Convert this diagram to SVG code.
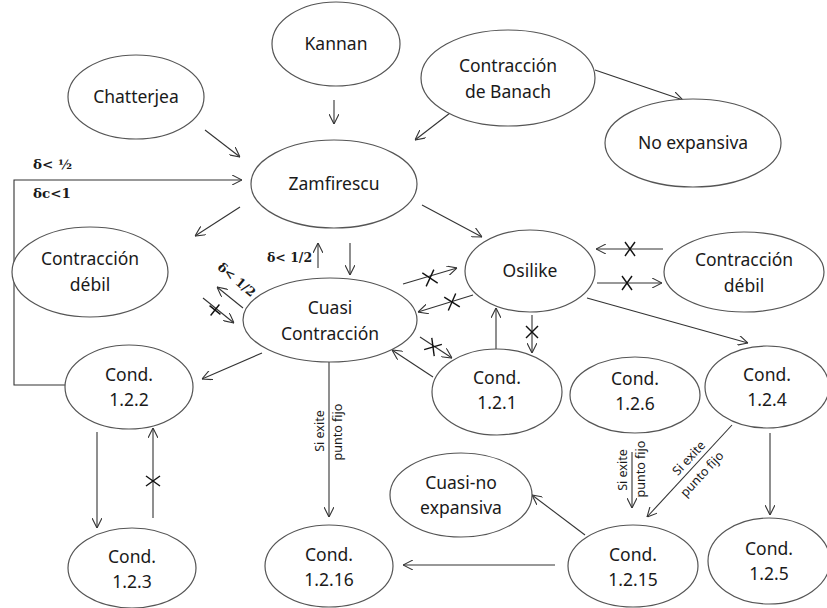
<svg xmlns="http://www.w3.org/2000/svg" width="827" height="608" viewBox="0 0 827 608">
<style>
.n ellipse{fill:#fff;stroke:#555;stroke-width:1.2}
.t{font-family:"Noto Sans","Liberation Sans",sans-serif;font-size:17.5px;fill:#1a1a1a;text-anchor:middle}
.s{font-family:"Noto Sans","Liberation Sans",sans-serif;font-size:12.5px;fill:#1a1a1a;text-anchor:middle}
.d{font-family:"DejaVu Serif","Liberation Serif",serif;font-size:13.5px;font-weight:bold;fill:#1a1a1a}
.c line,.c path{stroke:#333;stroke-width:1.1;fill:none}
.c .a{marker-end:url(#ah)}
.x line{stroke:#111;stroke-width:1.4}
</style>
<defs>
<marker id="ah" viewBox="0 0 10 10" refX="10" refY="5" markerWidth="10" markerHeight="10" markerUnits="userSpaceOnUse" orient="auto">
<path d="M0,0 L10,5 L0,10" fill="none" stroke="#333" stroke-width="1.1"/>
</marker>
</defs>
<rect width="827" height="608" fill="#fff"/>

<g class="c" id="connectors">
<line class="a" x1="205" y1="130" x2="240" y2="157"/>
<line class="a" x1="334" y1="100" x2="334" y2="124"/>
<line class="a" x1="450" y1="113" x2="415" y2="140"/>
<line class="a" x1="595" y1="70" x2="683" y2="100"/>
<path class="a" d="M65,385 L14,385 L14,180 L242,180"/>
<line class="a" x1="240" y1="207" x2="195" y2="236"/>
<line class="a" x1="422" y1="205" x2="482" y2="237"/>
<line class="a" x1="318" y1="268" x2="318" y2="243"/>
<line class="a" x1="350" y1="243" x2="350" y2="275"/>
<line class="a" x1="243" y1="308" x2="217" y2="287"/>
<line class="a" x1="203" y1="298" x2="234" y2="323"/>
<line class="a" x1="403" y1="284" x2="457" y2="268"/>
<line class="a" x1="473" y1="295" x2="418" y2="312"/>
<line class="a" x1="420" y1="337" x2="452" y2="358"/>
<line class="a" x1="433" y1="377" x2="392" y2="350"/>
<line class="a" x1="496" y1="352" x2="496" y2="308"/>
<line class="a" x1="532" y1="315" x2="532" y2="353"/>
<line class="a" x1="663" y1="249" x2="596" y2="249"/>
<line class="a" x1="597" y1="283" x2="662" y2="283"/>
<line class="a" x1="587" y1="298" x2="748" y2="343"/>
<line class="a" x1="262" y1="353" x2="202" y2="379"/>
<line class="a" x1="97" y1="432" x2="97" y2="528"/>
<line class="a" x1="153" y1="518" x2="153" y2="428"/>
<line class="a" x1="329" y1="362" x2="329" y2="517"/>
<line class="a" x1="555" y1="565" x2="403" y2="565"/>
<line class="a" x1="585" y1="535" x2="532" y2="495"/>
<line class="a" x1="770" y1="433" x2="770" y2="515"/>
<line class="a" x1="732" y1="425" x2="647" y2="517"/>
<line class="a" x1="632" y1="452" x2="632" y2="508"/>
</g>

<g class="x" id="crosses">
<g transform="translate(215,310) rotate(39)"><line x1="-7" y1="0" x2="7" y2="0"/><line x1="0" y1="-7" x2="0" y2="7"/></g>
<g transform="translate(430,278) rotate(-16)"><line x1="-6" y1="-7" x2="6" y2="7"/><line x1="-6" y1="7" x2="6" y2="-7"/></g>
<g transform="translate(452,302) rotate(-17)"><line x1="-6" y1="-7" x2="6" y2="7"/><line x1="-6" y1="7" x2="6" y2="-7"/></g>
<g transform="translate(433,347) rotate(33)"><line x1="-6" y1="-7" x2="6" y2="7"/><line x1="-6" y1="7" x2="6" y2="-7"/></g>
<g transform="translate(532,332)"><line x1="-6" y1="-6" x2="6" y2="6"/><line x1="-6" y1="6" x2="6" y2="-6"/></g>
<g transform="translate(630,249)"><line x1="-5" y1="-7" x2="5" y2="7"/><line x1="-5" y1="7" x2="5" y2="-7"/></g>
<g transform="translate(627,283)"><line x1="-5" y1="-7" x2="5" y2="7"/><line x1="-5" y1="7" x2="5" y2="-7"/></g>
<g transform="translate(153,481)"><line x1="-7" y1="-5" x2="7" y2="5"/><line x1="-7" y1="5" x2="7" y2="-5"/></g>
</g>

<g id="labels">
<text class="d" x="33" y="169">δ&lt; ½</text>
<text class="d" x="33" y="198">δc&lt;1</text>
<text class="d" x="267" y="262" style="font-size:12.5px">δ&lt; 1/2</text>
<text class="d" text-anchor="middle" style="font-size:12.5px" transform="translate(234,283) rotate(40)">δ&lt; 1/2</text>
<text class="s" transform="translate(324,431) rotate(-90)">Si exite</text>
<text class="s" transform="translate(342,432) rotate(-90)">punto fijo</text>
<text class="s" transform="translate(627,470) rotate(-90)">Si exite</text>
<text class="s" transform="translate(645,469) rotate(-90)">punto fijo</text>
<text class="s" transform="translate(692,461) rotate(-47)">Si exite</text>
<text class="s" transform="translate(705,477) rotate(-47)">punto fijo</text>
</g>

<g class="n" id="chatterjea"><ellipse cx="136" cy="97" rx="68" ry="42"/><text class="t" x="136" y="103">Chatterjea</text></g>
<g class="n" id="kannan"><ellipse cx="336" cy="44" rx="64" ry="42"/><text class="t" x="336" y="50">Kannan</text></g>
<g class="n" id="banach"><ellipse cx="508" cy="78" rx="87" ry="48"/><text class="t" x="508" y="72">Contracción</text><text class="t" x="508" y="98">de Banach</text></g>
<g class="n" id="noexpansiva"><ellipse cx="693" cy="143" rx="88" ry="44"/><text class="t" x="693" y="149">No expansiva</text></g>
<g class="n" id="zamfirescu"><ellipse cx="334" cy="184" rx="83" ry="44"/><text class="t" x="334" y="190">Zamfirescu</text></g>
<g class="n" id="debil1"><ellipse cx="90" cy="272" rx="78" ry="45"/><text class="t" x="90" y="265">Contracción</text><text class="t" x="90" y="291">débil</text></g>
<g class="n" id="cuasi"><ellipse cx="330" cy="320" rx="87" ry="42"/><text class="t" x="330" y="314">Cuasi</text><text class="t" x="330" y="340">Contracción</text></g>
<g class="n" id="osilike"><ellipse cx="530" cy="271" rx="65" ry="41"/><text class="t" x="530" y="277">Osilike</text></g>
<g class="n" id="debil2"><ellipse cx="744" cy="272" rx="80" ry="40"/><text class="t" x="744" y="266">Contracción</text><text class="t" x="744" y="292">débil</text></g>
<g class="n" id="c122"><ellipse cx="129" cy="387" rx="64" ry="42"/><text class="t" x="129" y="381">Cond.</text><text class="t" x="129" y="406">1.2.2</text></g>
<g class="n" id="c121"><ellipse cx="497" cy="392" rx="65" ry="43"/><text class="t" x="497" y="384">Cond.</text><text class="t" x="497" y="409">1.2.1</text></g>
<g class="n" id="c126"><ellipse cx="635" cy="395" rx="65" ry="38"/><text class="t" x="635" y="385">Cond.</text><text class="t" x="635" y="410">1.2.6</text></g>
<g class="n" id="c124"><ellipse cx="767" cy="387" rx="62" ry="41"/><text class="t" x="767" y="381">Cond.</text><text class="t" x="767" y="406">1.2.4</text></g>
<g class="n" id="cuasinoexp"><ellipse cx="461" cy="495" rx="71" ry="42"/><text class="t" x="461" y="489">Cuasi-no</text><text class="t" x="461" y="514">expansiva</text></g>
<g class="n" id="c123"><ellipse cx="132" cy="568" rx="64" ry="40"/><text class="t" x="132" y="563">Cond.</text><text class="t" x="132" y="588">1.2.3</text></g>
<g class="n" id="c1216"><ellipse cx="329" cy="566" rx="64" ry="41"/><text class="t" x="329" y="561">Cond.</text><text class="t" x="329" y="586">1.2.16</text></g>
<g class="n" id="c1215"><ellipse cx="633" cy="566" rx="65" ry="41"/><text class="t" x="633" y="561">Cond.</text><text class="t" x="633" y="586">1.2.15</text></g>
<g class="n" id="c125"><ellipse cx="769" cy="561" rx="61" ry="43"/><text class="t" x="769" y="555">Cond.</text><text class="t" x="769" y="580">1.2.5</text></g>
</svg>
